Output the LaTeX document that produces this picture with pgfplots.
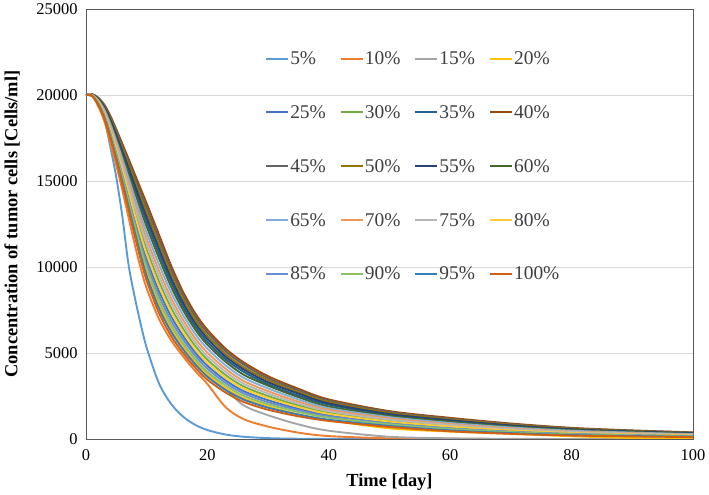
\documentclass[border=0pt]{standalone}
\usepackage{pgfplots}
\pgfplotsset{compat=1.18}
\usepackage{pgfplotstable}
\usepackage{fontspec}
\setmainfont{Liberation Serif}
\definecolor{c5}{HTML}{5B9BD5}
\definecolor{c10}{HTML}{ED7D31}
\definecolor{c15}{HTML}{A5A5A5}
\definecolor{c20}{HTML}{FFC000}
\definecolor{c25}{HTML}{4472C4}
\definecolor{c30}{HTML}{70AD47}
\definecolor{c35}{HTML}{255E91}
\definecolor{c40}{HTML}{9E480E}
\definecolor{c45}{HTML}{636363}
\definecolor{c50}{HTML}{997300}
\definecolor{c55}{HTML}{264478}
\definecolor{c60}{HTML}{43682B}
\definecolor{c65}{HTML}{7CAFDD}
\definecolor{c70}{HTML}{F1975A}
\definecolor{c75}{HTML}{B7B7B7}
\definecolor{c80}{HTML}{FFCD33}
\definecolor{c85}{HTML}{698ED0}
\definecolor{c90}{HTML}{8CC168}
\definecolor{c95}{HTML}{327DC2}
\definecolor{c100}{HTML}{D26012}
\definecolor{gridgray}{HTML}{D9D9D9}
\definecolor{axisgray}{HTML}{595959}
\definecolor{textgray}{HTML}{404040}
\pgfplotstableread{
t p5 p10 p15 p20 p25 p30 p35 p40 p45 p50 p55 p60 p65 p70 p75 p80 p85 p90 p95 p100
0 20000 20000 20000 20000 20000 20000 20000 20000 20000 20000 20000 20000 20000 20000 20000 20000 20000 20000 20000 20000
1 19950 19940 19960 19960 19980 19990 20030 20050 20040 20040 20030 20020 20010 20000 20000 19980 19970 19970 19960 19950
2 19650 19350 19500 19490 19560 19610 19750 19850 19830 19800 19780 19730 19700 19670 19640 19590 19540 19510 19470 19450
3 18700 18500 18750 18730 18870 18970 19260 19450 19400 19350 19310 19210 19150 19080 19030 18920 18830 18780 18700 18650
4 17000 17200 17660 17630 17860 18020 18490 18800 18720 18640 18570 18410 18310 18200 18110 17940 17790 17710 17580 17500
5 15200 15900 16420 16380 16700 16920 17570 18000 17890 17780 17680 17460 17320 17170 17050 16810 16600 16490 16310 16200
6 12900 14450 15080 15040 15460 15740 16590 17150 17010 16870 16730 16450 16260 16070 15910 15600 15320 15180 14940 14800
7 10150 12900 13700 13650 14180 14530 15590 16300 16120 15950 15770 15420 15180 14940 14740 14350 14000 13820 13530 13350
8 8300 11350 12280 12210 12850 13280 14570 15430 15220 15000 14790 14360 14070 13780 13530 13070 12640 12420 12070 11850
9 6700 9950 10940 10860 11600 12090 13570 14560 14310 14070 13820 13330 13000 12670 12380 11850 11350 11110 10700 10450
10 5300 8750 9740 9650 10460 11000 12610 13690 13420 13150 12880 12340 11980 11630 11310 10730 10190 9920 9470 9200
12 3250 7000 7900 7810 8620 9170 10810 11900 11630 11350 11080 10540 10170 9810 9490 8900 8350 8080 7620 7350
14 2050 5750 6490 6410 7150 7640 9120 10100 9850 9610 9360 8870 8540 8210 7930 7390 6900 6660 6250 6000
16 1300 4800 5430 5360 5990 6420 7700 8550 8340 8120 7910 7490 7200 6920 6670 6210 5780 5570 5210 5000
18 820 3950 4530 4470 5030 5410 6540 7300 7110 6920 6730 6360 6100 5850 5630 5220 4840 4650 4340 4150
20 520 3200 3800 3740 4260 4610 5650 6350 6180 6000 5830 5480 5250 5020 4810 4440 4090 3910 3620 3450
23 260 1850 2900 2960 3410 3720 4640 5250 5100 4940 4790 4490 4280 4080 3900 3570 3260 3110 2850 2700
26 130 1150 1950 2380 2780 3050 3900 4450 4320 4170 4040 3730 3550 3370 3210 2920 2650 2510 2290 2150
30 50 720 1380 1900 2260 2500 3180 3650 3530 3420 3300 3100 2940 2780 2640 2380 2140 2020 1820 1700
35 15 370 850 1440 1760 1950 2520 2920 2830 2730 2640 2430 2300 2170 2060 1860 1670 1570 1420 1320
40 5 170 480 1100 1390 1530 2000 2300 2230 2150 2070 1890 1790 1700 1610 1460 1310 1240 1120 1050
50 0 40 130 620 960 1070 1400 1620 1570 1510 1450 1340 1270 1200 1130 1010 900 850 760 700
60 0 10 40 430 670 760 1040 1230 1180 1140 1090 1000 930 870 820 720 620 580 500 450
70 0 0 10 300 470 540 760 900 860 830 790 720 670 620 580 500 430 400 340 300
80 0 0 0 160 330 380 540 650 620 600 570 520 480 440 410 350 300 270 230 200
90 0 0 0 60 250 290 420 500 480 460 440 400 370 340 320 270 230 210 170 150
100 0 0 0 10 190 220 320 385 370 350 340 300 280 260 240 200 170 150 130 110
}\datatable
\begin{document}
\begin{tikzpicture}
\begin{axis}[
  at={(0,0)}, anchor=south west,
  scale only axis, width=607bp, height=430bp,
  xmin=0, xmax=100, ymin=0, ymax=25000,
  xtick={0,20,40,60,80,100},
  ytick={0,5000,10000,15000,20000,25000},
  scaled y ticks=false,
  /pgf/number format/1000 sep={},
  /pgf/number format/assume math mode=true,
  ymajorgrids,
  grid style={draw=gridgray, line width=0.8bp},
  axis line style={draw=axisgray, line width=0.9bp},
  major tick length=0pt,
  tick label style={font=\fontsize{16.5}{18}\selectfont, text=black},
  yticklabel style={xshift=-5bp},
  xticklabel style={yshift=-7bp},
  every axis y label/.style={at={(rel axis cs:0,0.5)}, xshift=-74bp, rotate=90, anchor=center},
  every axis x label/.style={at={(rel axis cs:0.5,0)}, anchor=center, yshift=-43bp},
  label style={font=\bfseries\fontsize{18.5}{20}\selectfont},
  xlabel={Time [day]},
  ylabel={Concentration of tumor cells [Cells/ml]},
  legend columns=4,
  legend cell align=left,
  legend style={draw=none, fill=none, at={(rel axis cs:0.295,0.902)}, anchor=north west,
    font=\fontsize{19.5}{21}\selectfont, text=textgray, inner sep=0pt, row sep=39.5bp,
    nodes={inner xsep=1bp, inner ysep=0pt},
    /tikz/every even column/.append style={column sep=13bp}},
  legend image code/.code={\draw[#1, line width=2bp] (0bp,0bp) -- (22bp,0bp);},
  every axis plot/.append style={line width=1.9bp, smooth, no markers},
]
\addplot[c5] table[x=t, y=p5] {\datatable};
\addlegendentry{5\%}
\addplot[c10] table[x=t, y=p10] {\datatable};
\addlegendentry{10\%}
\addplot[c15] table[x=t, y=p15] {\datatable};
\addlegendentry{15\%}
\addplot[c20] table[x=t, y=p20] {\datatable};
\addlegendentry{20\%}
\addplot[c25] table[x=t, y=p25] {\datatable};
\addlegendentry{25\%}
\addplot[c30] table[x=t, y=p30] {\datatable};
\addlegendentry{30\%}
\addplot[c35] table[x=t, y=p35] {\datatable};
\addlegendentry{35\%}
\addplot[c40] table[x=t, y=p40] {\datatable};
\addlegendentry{40\%}
\addplot[c45] table[x=t, y=p45] {\datatable};
\addlegendentry{45\%}
\addplot[c50] table[x=t, y=p50] {\datatable};
\addlegendentry{50\%}
\addplot[c55] table[x=t, y=p55] {\datatable};
\addlegendentry{55\%}
\addplot[c60] table[x=t, y=p60] {\datatable};
\addlegendentry{60\%}
\addplot[c65] table[x=t, y=p65] {\datatable};
\addlegendentry{65\%}
\addplot[c70] table[x=t, y=p70] {\datatable};
\addlegendentry{70\%}
\addplot[c75] table[x=t, y=p75] {\datatable};
\addlegendentry{75\%}
\addplot[c80] table[x=t, y=p80] {\datatable};
\addlegendentry{80\%}
\addplot[c85] table[x=t, y=p85] {\datatable};
\addlegendentry{85\%}
\addplot[c90] table[x=t, y=p90] {\datatable};
\addlegendentry{90\%}
\addplot[c95] table[x=t, y=p95] {\datatable};
\addlegendentry{95\%}
\addplot[c100] table[x=t, y=p100] {\datatable};
\addlegendentry{100\%}
\end{axis}
\pgfresetboundingbox
\path (-86bp,-56bp) rectangle (623bp,439bp);
\end{tikzpicture}
\end{document}
